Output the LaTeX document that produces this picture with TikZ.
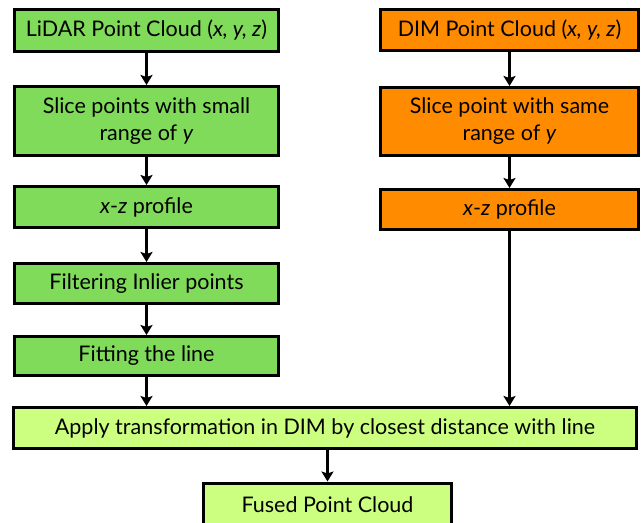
\documentclass[tikz,border=0pt]{standalone}
\usepackage{fontspec}
\setmainfont{Lato}
\usetikzlibrary{arrows.meta,positioning}

\definecolor{lidargreen}{HTML}{80DB5B}
\definecolor{dimorange}{HTML}{FF8C00}
\definecolor{fusegreen}{HTML}{CCFF80}

\begin{document}
\begin{tikzpicture}[
  >={Stealth[length=10pt,width=12pt,inset=2pt]},
  every node/.style={font=\fontsize{21.5}{27}\selectfont},
  node distance=30pt,
  lbox/.style={draw, line width=3pt, fill=lidargreen, align=center,
               minimum width=264pt, minimum height=41pt},
  rbox/.style={draw, line width=3pt, fill=dimorange, align=center,
               minimum width=258pt, minimum height=41pt},
  fbox/.style={draw, line width=3pt, fill=fusegreen, align=center,
               minimum height=41pt},
  flow/.style={->, line width=2.6pt},
]
\useasboundingbox (0,0) rectangle (644pt,-522pt);
% left column: LiDAR
\node[lbox, minimum height=42pt] (lidar) at (146.5pt,-30.5pt)
  {LiDAR Point Cloud (\textit{x, y, z})};
\node[lbox, minimum height=69pt, below=32pt of lidar] (slicel)
  {Slice points with small\\range of \textit{y}};
\node[lbox, below=28pt of slicel] (xzl) {\textit{x}-\textit{z} profile};
\node[lbox, minimum height=40pt, below=33pt of xzl] (filt) {Filtering Inlier points};
\node[lbox, minimum height=39pt, below=30pt of filt] (fit) {Fitting the line};
% right column: DIM
\node[rbox] (dim) at (509.5pt,-30pt) {DIM Point Cloud (\textit{x, y, z})};
\node[rbox, minimum height=68pt, below=34pt of dim] (slicer)
  {Slice point with same\\range of \textit{y}};
\node[rbox, minimum height=40pt, below=31pt of slicer] (xzr) {\textit{x}-\textit{z} profile};
% bottom
\node[fbox, minimum width=623pt] (apply) at (325pt,-428pt)
  {Apply transformation in DIM by closest distance with line};
\node[fbox, minimum width=248pt, minimum height=44pt] (fused) at (327.5pt,-505pt)
  {Fused Point Cloud};

\draw[flow] (lidar) -- (slicel);
\draw[flow] (slicel) -- (xzl);
\draw[flow] (xzl) -- (filt);
\draw[flow] (filt) -- (fit);
\draw[flow] (fit.south) -- (fit.south |- apply.north);
\draw[flow] (dim) -- (slicer);
\draw[flow] (slicer) -- (xzr);
\draw[flow] (xzr.south) -- (xzr.south |- apply.north);
\draw[flow] (apply.south -| fused.north) -- (fused.north);
\end{tikzpicture}
\end{document}
